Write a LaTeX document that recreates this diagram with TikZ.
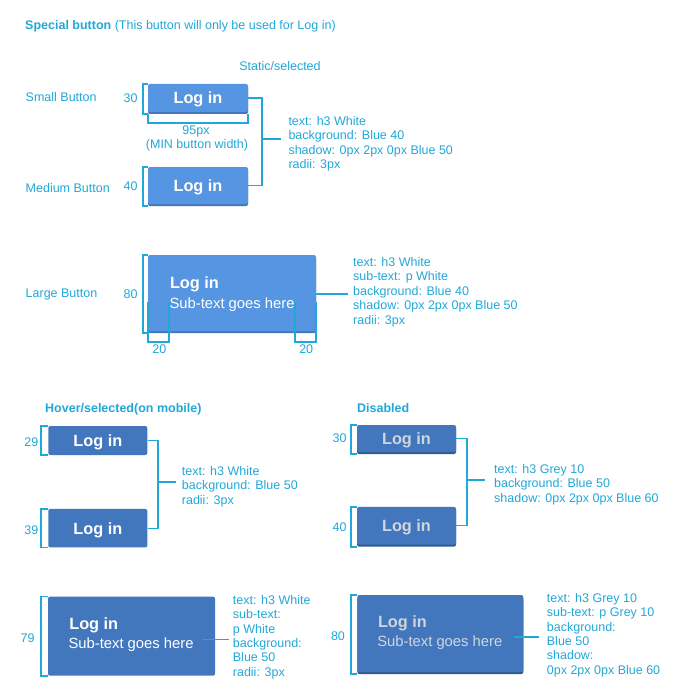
\documentclass[tikz,border=0pt]{standalone}
\usepackage{fontspec}
\setmainfont{Liberation Sans}
\usetikzlibrary{calc,shadows}
\definecolor{lbl}{HTML}{22A8D8}
\definecolor{bluefx}{HTML}{5595E2}
\definecolor{bluefifty}{HTML}{4277BE}
\definecolor{bluesixty}{HTML}{2F5B8E}
\definecolor{greyten}{HTML}{D0D5DD}
\begin{document}
\begin{tikzpicture}[x=1pt,y=-1pt,
  lab/.style={text=lbl, font=\fontsize{12.5}{14.4}\selectfont, inner sep=0pt},
  hdr/.style={lab, font=\bfseries\fontsize{12.5}{14.4}\selectfont},
  blk/.style={lab, anchor=north west, align=left},
  btnbase/.style={rounded corners=2pt, inner sep=0pt, text depth=0pt,
    font=\bfseries\fontsize{16.3}{18}\selectfont},
  btn/.style={btnbase, fill=bluefx, text=white,
    drop shadow={shadow xshift=0pt, shadow yshift=-2pt, fill=bluefifty, opacity=1}},
  hbtn/.style={btnbase, fill=bluefifty, text=white},
  dbtn/.style={btnbase, fill=bluefifty, text=greyten,
    drop shadow={shadow xshift=0pt, shadow yshift=-2pt, fill=bluesixty, opacity=1}},
  btitle/.style={inner sep=0pt, anchor=base west, font=\bfseries\fontsize{16.3}{18}\selectfont},
  bsub/.style={inner sep=0pt, anchor=base west, font=\fontsize{14.8}{18}\selectfont},
  brk/.style={draw=lbl, line width=1.5pt},
  con/.style={draw=lbl, line width=1.2pt}]
\useasboundingbox[fill=white] (0,0) rectangle (698,698);

% title
\node[lab, anchor=base west] (title) at (25,30) {\textbf{Special button} (This button will only be used for Log in)};
\node[lab, anchor=base] (stat) at (280,71) {Static/selected};
\node[lab, anchor=base west] (lsmall) at (25.5,102) {Small Button};
\node[lab, anchor=base west] (lmed) at (25.5,192) {Medium Button};
\node[lab, anchor=base west] (llarge) at (25.5,297) {Large Button};

% static buttons
\node[btn, minimum width=100pt, minimum height=28pt] (sb) at (198,98) {Log in};
\node[btn, minimum width=100pt, minimum height=37pt] (mb) at (198,185.5) {Log in};
\node[btn, minimum width=168pt, minimum height=76pt] (lb) at (232,293) {};
\node[btitle, text=white] (lbt) at ($(lb.north west)+(22,33.5)$) {Log in};
\node[bsub, text=white] (lbs) at ($(lb.north west)+(21.5,53.5)$) {Sub-text goes here};

% brackets static
\draw[brk] (sb.north west) -- ++(-5,0) |- ($(sb.south west)+(0,2)$);
\draw[brk] ($(sb.south west)+(0,2)$) -- ++(0,9) -| ($(sb.south east)+(0,2)$);
\node[lab, anchor=base] (w95) at ($(sb.south)+(-2,22)$) {95px};
\node[lab, anchor=base] (wmin) at ($(sb.south)+(-1,36)$) {(MIN button width)};
\draw[brk] (mb.north west) -- ++(-5,0) |- ($(mb.south west)+(0,2)$);
\draw[brk] (lb.north west) -- ++(-5,0) |- ($(lb.south west)+(0,2)$);
\node[lab, anchor=east] (n30) at ($(sb.west)+(-10,0)$) {30};
\node[lab, anchor=east] (n40) at ($(mb.west)+(-10,0.5)$) {40};
\node[lab, anchor=east] (n80) at ($(lb.west)+(-10,1.5)$) {80};
\draw[brk] ($(lb.south west)+(0,-29)$) -- ++(0,40) -| ++(21,-40);
\draw[brk] ($(lb.south east)+(0,-29)$) -- ++(0,40) -| ++(-21,-40);
\node[lab, anchor=base] (n20a) at ($(lb.south west)+(11.5,22)$) {20};
\node[lab, anchor=base] (n20b) at ($(lb.south east)+(-10,22)$) {20};

% static connectors and specs
\node[blk] (t1) at (288.3,116.3) {text: h3 White\\background: Blue 40\\shadow: 0px 2px 0px Blue 50\\radii: 3px};
\coordinate (j1) at (262,139);
\draw[con] (sb.east) -| (j1) |- (mb.east);
\draw[con, shorten >=7pt] (j1) -- (j1 -| t1.west);
\node[blk] (t2) at (353,257.3) {text: h3 White\\sub-text: p White\\background: Blue 40\\shadow: 0px 2px 0px Blue 50\\radii: 3px};
\coordinate (c2) at ($(lb.east)+(0,1)$);
\draw[con, shorten >=5pt] (c2) -- (c2 -| t2.west);

% hover
\node[hdr, anchor=base west] (hh) at (45,412) {Hover/selected(on mobile)};
\node[hbtn, minimum width=99pt, minimum height=29pt] (hb1) at (97.8,440.5) {Log in};
\node[hbtn, minimum width=99pt, minimum height=38.5pt] (hb2) at (97.8,528.2) {Log in};
\draw[brk] (hb1.north west) -- ++(-7,0) |- (hb1.south west);
\draw[brk] (hb2.north west) -- ++(-7,0) |- (hb2.south west);
\node[lab, anchor=east] (n29) at ($(hb1.west)+(-9.5,1.5)$) {29};
\node[lab, anchor=east] (n39) at ($(hb2.west)+(-9.5,1.5)$) {39};
\node[blk] (t3) at (181.7,466) {text: h3 White\\background: Blue 50\\radii: 3px};
\coordinate (j3) at (158,482);
\draw[con] (hb1.east) -| (j3) |- (hb2.east);
\draw[con, shorten >=6pt] (j3) -- (j3 -| t3.west);

% disabled
\node[hdr, anchor=base west] (dh) at (357,412) {Disabled};
\node[dbtn, minimum width=99pt, minimum height=27pt] (db1) at (406.5,438.5) {Log in};
\node[dbtn, minimum width=99pt, minimum height=37.7pt] (db2) at (406.5,525.8) {Log in};
\draw[brk] (db1.north west) -- ++(-6,0) |- ($(db1.south west)+(0,2)$);
\draw[brk] (db2.north west) -- ++(-6,0) |- ($(db2.south west)+(0,2)$);
\node[lab, anchor=east] (d30) at ($(db1.west)+(-10,0)$) {30};
\node[lab, anchor=east] (d40) at ($(db2.west)+(-10,1)$) {40};
\node[blk] (t4) at (494,464) {text: h3 Grey 10\\background: Blue 50\\shadow: 0px 2px 0px Blue 60};
\coordinate (j4) at (467,480);
\draw[con] (db1.east) -| (j4) |- (db2.east);
\draw[con, shorten >=9pt] (j4) -- (j4 -| t4.west);

% large hover
\node[hbtn, minimum width=167pt, minimum height=79pt] (hb3) at (131.5,636.2) {};
\node[btitle, text=white] (hb3t) at ($(hb3.north west)+(21.3,33.3)$) {Log in};
\node[bsub, text=white] (hb3s) at ($(hb3.north west)+(20.5,52.3)$) {Sub-text goes here};
\draw[brk] (hb3.north west) -- ++(-7,0) |- (hb3.south west);
\node[lab, anchor=east] (n79) at ($(hb3.west)+(-13,1.5)$) {79};
\node[blk] (t5) at (232.7,595) {text: h3 White\\sub-text:\\p White\\background:\\Blue 50\\radii: 3px};
\coordinate (c5) at ($(hb3.east)+(-12,3)$);
\draw[con, shorten >=4pt] (c5) -- (c5 -| t5.west);

% large disabled
\node[dbtn, minimum width=166pt, minimum height=77pt] (db3) at (440.3,633.5) {};
\node[btitle, text=greyten] (db3t) at ($(db3.north west)+(20.7,33)$) {Log in};
\node[bsub, text=greyten] (db3s) at ($(db3.north west)+(20,51.7)$) {Sub-text goes here};
\draw[brk] (db3.north west) -- ++(-6,0) |- ($(db3.south west)+(0,2)$);
\node[lab, anchor=east] (d80) at ($(db3.west)+(-12,2.5)$) {80};
\node[blk] (t6) at (546.7,593) {text: h3 Grey 10\\sub-text: p Grey 10\\background:\\Blue 50\\shadow:\\0px 2px 0px Blue 60};
\coordinate (c6) at ($(db3.east)+(-10,3.5)$);
\draw[con, shorten >=8pt] (c6) -- (c6 -| t6.west);
\end{tikzpicture}
\end{document}
